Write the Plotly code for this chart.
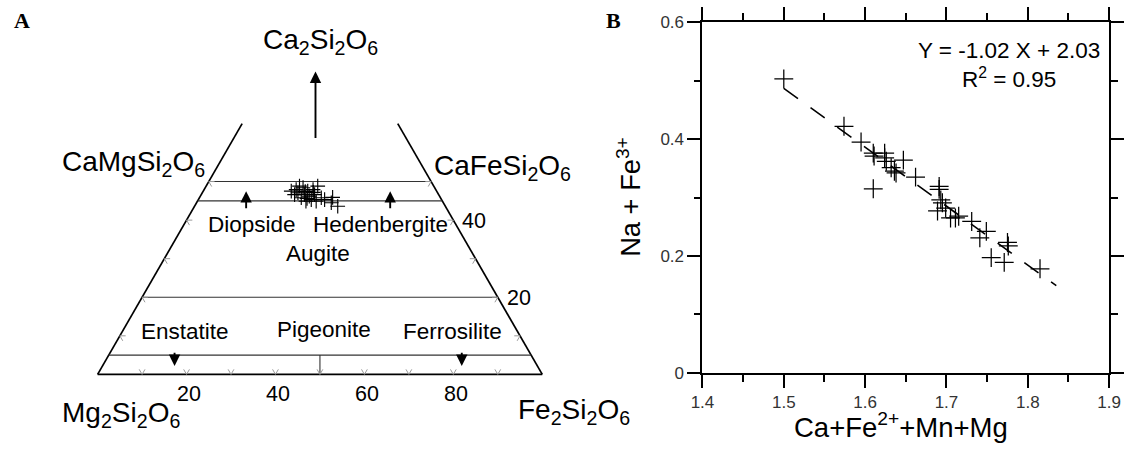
import numpy as np
import plotly.graph_objects as go

# ---------------- Panel A: pyroxene quadrilateral (mol %) ----------------
wo_pts = [47.5, 47.9, 47.1, 48.4, 46.6, 45.8, 47.5, 46.2, 47.9, 46.6, 48.8, 44.9,
          45.3, 45.8, 45.3, 44.5, 43.6, 48.8, 46.6, 44.9, 47.4, 47.2, 45.6, 45.9]
fs_pts = [19.8, 20.7, 21.5, 22.0, 23.2, 22.9, 23.5, 24.5, 24.5, 25.5, 25.1, 24.4,
          25.4, 27.4, 28.4, 30.3, 32.2, 21.0, 21.0, 26.7, 23.0, 24.9, 24.3, 29.9]
wo_top = 65                      # trapezoid cut-off
wo_fields = [50, 45, 20, 5]      # field boundaries (constant Wo)
fs_split = 50                    # En / Fs divider below Wo = 5
base_labels = [20, 40, 60, 80]
side_labels = [20, 40]
tick_vals = [10, 20, 30, 40, 50, 60, 70, 80, 90]
side_ticks = [10, 20, 30, 40, 50]
# arrows: (position along base %, Wo tail, Wo head)
arrows = [(33.4, 42.7, 47.5), (65.8, 42.7, 47.5), (17.3, 6.0, 2.2), (81.9, 6.0, 2.2),
          (49.0, 60.9, 78.5)]

# ---------------- Panel B ----------------
bx = [1.500, 1.574, 1.595, 1.610, 1.611, 1.624, 1.624, 1.626, 1.632, 1.636, 1.638,
      1.647, 1.610, 1.662, 1.691, 1.691, 1.693, 1.695, 1.689, 1.699, 1.705, 1.711,
      1.715, 1.731, 1.749, 1.741, 1.775, 1.776, 1.755, 1.771, 1.815]
by = [0.503, 0.422, 0.395, 0.376, 0.371, 0.376, 0.368, 0.362, 0.351, 0.345, 0.342,
      0.364, 0.315, 0.335, 0.319, 0.314, 0.296, 0.291, 0.277, 0.282, 0.265, 0.265,
      0.268, 0.259, 0.242, 0.231, 0.223, 0.217, 0.197, 0.189, 0.178]
fit_x = [1.500, 1.835]
fit_y = [0.487, 0.149]
eq_text = "Y = -1.02 X + 2.03<br>R<sup>2</sup> = 0.95"

W, H = 1132, 454
FONT = "Liberation Sans, Arial, sans-serif"
S3 = np.sqrt(3) / 2

# target-picture pixel -> figure pixel (the photograph frames the page slightly)
SX, SY = 0.9812, 0.9589
OX, OY = 10.15, 9.33


def fx(px):
    return (px - OX) / SX


def fy(py):
    return (py - OY) / SY


def P(px, py):
    return fx(px) / W, 1 - fy(py) / H


def tern(wo, fs):
    wo = np.asarray(wo, float) / 100.0
    fs = np.asarray(fs, float) / 100.0
    return fs + wo / 2, wo * S3


# ternary frame: base from x=96 to 541.7 (target px), base line at y=375
BASE_L, BASE_Y, BASE_W = 96.0, 375.0, 445.7
X0, KX = fx(BASE_L), BASE_W / SX
Y0, KY = fy(BASE_Y), BASE_W / SY
A_DOM = 0.55


def seg_trace(segs, color, width):
    xs, ys = [], []
    for (w1, f1), (w2, f2) in segs:
        x, y = tern([w1, w2], [f1, f2])
        xs += list(x) + [None]
        ys += list(y) + [None]
    return go.Scatter(x=xs, y=ys, mode="lines", line=dict(color=color, width=width),
                      hoverinfo="skip", showlegend=False, xaxis="x", yaxis="y")


fig = go.Figure()

outline = [((0, 0), (0, 100)), ((0, 0), (wo_top, 0)), ((0, 100), (wo_top, 100 - wo_top))]
fig.add_trace(seg_trace(outline, "black", 1.7))
fields = [((w, 0), (w, 100 - w)) for w in wo_fields]
fields.append(((0, fs_split), (5, fs_split - 2.5)))
fig.add_trace(seg_trace(fields, "#333333", 1.1))
t = 1.3
ticks = []
for f in tick_vals:
    ticks += [((0, f), (t, f)), ((0, f), (t, f - t))]
for w in side_ticks:
    ticks += [((w, 0), (w, t)), ((w, 0), (w - t, t))]
    ticks += [((w, 100 - w), (w, 100 - w - t)), ((w, 100 - w), (w - t, 100 - w))]
fig.add_trace(seg_trace(ticks, "#9a9a9a", 1))

ax_, ay_ = tern(wo_pts, fs_pts)
fig.add_trace(go.Scatter(x=ax_, y=ay_, mode="markers", xaxis="x", yaxis="y",
                         marker=dict(symbol="cross-thin", size=10.5,
                                     line=dict(width=1.15, color="black")),
                         showlegend=False))

annotations = []
for xb, w1, w2 in arrows:
    annotations.append(dict(x=xb / 100, y=w2 / 100 * S3, ax=xb / 100, ay=w1 / 100 * S3,
                            xref="x", yref="y", axref="x", ayref="y", text="",
                            showarrow=True, arrowhead=2, arrowsize=1.2, arrowwidth=1.9,
                            arrowcolor="black"))

# ternary numbers (placed relative to their tick on the frame, target px)
for v in base_labels:
    px = BASE_L + BASE_W * v / 100 + 2.5
    x, y = P(px, 394.5)
    annotations.append(dict(x=x, y=y, xref="paper", yref="paper", text=str(v),
                            showarrow=False, xanchor="center", yanchor="middle",
                            font=dict(family=FONT, size=21.5, color="black")))
for v in side_labels:
    ex, ey = tern(v, 100 - v)
    px = BASE_L + BASE_W * float(ex) + 7
    py = BASE_Y - BASE_W * float(ey) + 1
    x, y = P(px, py)
    annotations.append(dict(x=x, y=y, xref="paper", yref="paper", text=str(v),
                            showarrow=False, xanchor="left", yanchor="middle",
                            font=dict(family=FONT, size=21.5, color="black")))

texts_A = [
    ("Ca<sub>2</sub>Si<sub>2</sub>O<sub>6</sub>", 319.5, 42, 28),
    ("CaMgSi<sub>2</sub>O<sub>6</sub>", 132, 164, 28),
    ("CaFeSi<sub>2</sub>O<sub>6</sub>", 502, 168, 28),
    ("Mg<sub>2</sub>Si<sub>2</sub>O<sub>6</sub>", 119, 415, 28),
    ("Fe<sub>2</sub>Si<sub>2</sub>O<sub>6</sub>", 574, 412, 28),
    ("Diopside", 250.5, 225, 22.5),
    ("Hedenbergite", 379.5, 225, 22.5),
    ("Augite", 316.5, 254.5, 22.5),
    ("Enstatite", 183.7, 332.5, 22.5),
    ("Pigeonite", 322.5, 330.5, 22.5),
    ("Ferrosilite", 451.7, 332.5, 22.5),
]
for txt, px, py, fs in texts_A:
    x, y = P(px, py)
    annotations.append(dict(x=x, y=y, xref="paper", yref="paper", text=txt,
                            showarrow=False, xanchor="center", yanchor="middle",
                            font=dict(family=FONT, size=fs, color="black")))

for letter, px, py in [("A", 20, 20.5), ("B", 613.5, 20.5)]:
    x, y = P(px, py)
    annotations.append(dict(x=x, y=y, xref="paper", yref="paper", text="<b>%s</b>" % letter,
                            showarrow=False, xanchor="center", yanchor="middle",
                            font=dict(family="Liberation Serif, serif", size=22, color="black")))

# ----- Panel B traces -----
fig.add_trace(go.Scatter(x=fit_x, y=fit_y, mode="lines", xaxis="x2", yaxis="y2",
                         line=dict(color="black", width=1.6, dash="17.5px,15.5px"),
                         showlegend=False))
fig.add_trace(go.Scatter(x=bx, y=by, mode="markers", xaxis="x2", yaxis="y2",
                         marker=dict(symbol="cross-thin", size=13.5,
                                     line=dict(width=1.25, color="black")),
                         showlegend=False))

x, y = P(1009.5, 65.7)
annotations.append(dict(x=x, y=y, xref="paper", yref="paper", text=eq_text, align="center",
                        showarrow=False, xanchor="center", yanchor="middle",
                        font=dict(family=FONT, size=22.5, color="black")))
x, y = P(628.5, 197.5)
annotations.append(dict(x=x, y=y, xref="paper", yref="paper", text="Na + Fe<sup>3+</sup>",
                        textangle=-90, showarrow=False, xanchor="center", yanchor="middle",
                        font=dict(family=FONT, size=27.3, color="black")))
x, y = P(901, 426.5)
annotations.append(dict(x=x, y=y, xref="paper", yref="paper", text="Ca+Fe<sup>2+</sup>+Mn+Mg",
                        showarrow=False, xanchor="center", yanchor="middle",
                        font=dict(family=FONT, size=27.5, color="black")))

axis_common = dict(showline=True, linecolor="black", linewidth=1.6, mirror="ticks",
                   ticks="outside", tickwidth=1.5, tickcolor="black",
                   showgrid=False, zeroline=False,
                   tickfont=dict(family=FONT, size=17, color="#333333"))

bx0, by0 = P(702.3, 373.3)
bx1, by1 = P(1110.0, 22.7)

fig.update_layout(
    width=W, height=H, margin=dict(l=0, r=0, t=0, b=0),
    paper_bgcolor="white", plot_bgcolor="white",
    xaxis=dict(domain=[0, A_DOM], range=[(0 - X0) / KX, (A_DOM * W - X0) / KX],
               visible=False, fixedrange=True),
    yaxis=dict(domain=[0, 1], range=[(Y0 - H) / KY, Y0 / KY], visible=False,
               fixedrange=True),
    xaxis2=dict(domain=[bx0, bx1], range=[1.4, 1.9], anchor="y2",
                tick0=1.4, dtick=0.1, ticklen=13.5,
                minor=dict(dtick=0.05, ticks="outside", ticklen=7.3, tickwidth=1.5,
                           tickcolor="black"),
                **axis_common),
    yaxis2=dict(domain=[by0, by1], range=[0, 0.6], anchor="x2",
                tick0=0, dtick=0.2, ticklen=13.2,
                minor=dict(dtick=0.1, ticks="outside", ticklen=7.1, tickwidth=1.5,
                           tickcolor="black"),
                **axis_common),
    annotations=annotations,
    showlegend=False,
)

fig.write_html("out.html", config={"displayModeBar": False},
               post_script="document.body.style.margin='0';document.body.style.overflow='hidden';")
